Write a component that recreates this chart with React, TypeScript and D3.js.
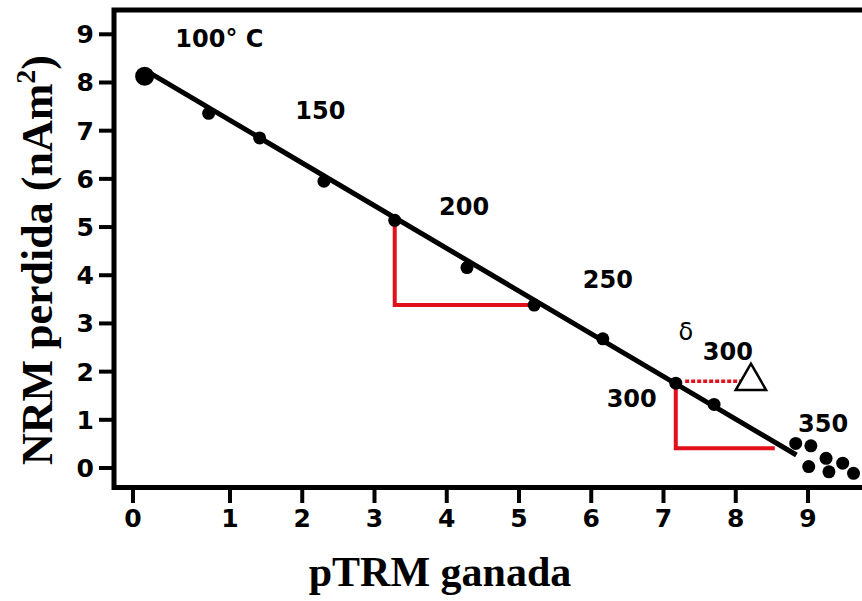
import React, { useEffect, useRef } from "react";
import * as d3 from "d3";

// ejes
const xTicks = [0, 1, 2, 3, 4, 5, 6, 7, 8, 9];
const yTicks = [0, 1, 2, 3, 4, 5, 6, 7, 8, 9];

// puntos medidos (pTRM ganada, NRM perdida)
const pTRM = [0.12, 0.78, 1.41, 2.3, 3.28, 4.28, 5.21, 6.16, 7.17, 7.7, 8.83, 9.04, 9.25, 9.01, 9.29, 9.48, 9.63];
const NRM = [8.13, 7.36, 6.85, 5.95, 5.14, 4.16, 3.38, 2.68, 1.76, 1.32, 0.51, 0.46, 0.2, 0.03, -0.08, 0.1, -0.11];

// recta de ajuste
const fitX = [0.155, 8.84];
const fitY = [8.22, 0.27];

// triangulos rojos
const redA: [number, number][] = [[3.28, 5.14], [3.28, 3.38], [5.21, 3.38]];
const redB: [number, number][] = [[7.17, 1.76], [7.17, 0.41], [8.54, 0.41]];
const checkLine: [number, number][] = [[7.3, 1.8], [8.08, 1.8]];
const checkPoint: [number, number] = [8.21, 1.8];

// etiquetas de temperatura
const tempText = ["100° C", "150", "200", "250", "300", "300", "350"];
const tempX = [0.89, 2.25, 4.24, 6.23, 7.89, 6.56, 9.21];
const tempY = [8.74, 7.25, 5.25, 3.73, 2.24, 1.27, 0.75];

const App = () => {
    const svgRef = useRef<SVGSVGElement>(null);

    useEffect(() => {
        const width = 862;
        const height = 601;
        const left = 114, top = 10, bottom = 487.5;
        const sans = "'DejaVu Sans', sans-serif";
        const serif = "'Liberation Serif', 'Times New Roman', serif";
        const red = "#e2101b";

        const svg = d3.select(svgRef.current);
        svg.selectAll("*").remove();
        svg.attr("width", width).attr("height", height);

        // el 0-1 esta mas separado en el original
        const x = d3.scaleLinear().domain([0, 1, 9]).range([133, 230, 808]);
        const y = d3.scaleLinear().domain([0, 9]).range([468, 34.3]);

        // marco
        svg.append("path")
            .attr("d", `M${width + 20},${top}H${left}V${bottom}H${width + 20}`)
            .attr("fill", "none")
            .attr("stroke", "#000")
            .attr("stroke-width", 5);

        // ticks Y
        const yg = svg.append("g");
        yg.selectAll("line").data(yTicks).enter().append("line")
            .attr("x1", 99).attr("x2", left)
            .attr("y1", (d) => y(d)).attr("y2", (d) => y(d))
            .attr("stroke", "#000").attr("stroke-width", 4);
        yg.selectAll("text").data(yTicks).enter().append("text")
            .attr("x", 94).attr("y", (d) => y(d))
            .attr("dy", "0.36em")
            .attr("text-anchor", "end")
            .attr("font-family", sans).attr("font-weight", "bold").attr("font-size", 25)
            .text((d) => d);

        // ticks X
        const xg = svg.append("g");
        xg.selectAll("line").data(xTicks).enter().append("line")
            .attr("x1", (d) => x(d)).attr("x2", (d) => x(d))
            .attr("y1", bottom).attr("y2", 503)
            .attr("stroke", "#000").attr("stroke-width", 4);
        xg.selectAll("text").data(xTicks).enter().append("text")
            .attr("x", (d) => x(d)).attr("y", 527)
            .attr("text-anchor", "middle")
            .attr("font-family", sans).attr("font-weight", "bold").attr("font-size", 25)
            .text((d) => d);

        // titulos
        svg.append("text")
            .attr("x", 440).attr("y", 586)
            .attr("text-anchor", "middle")
            .attr("font-family", serif).attr("font-weight", "bold").attr("font-size", 42)
            .text("pTRM ganada");

        const yt = svg.append("text")
            .attr("transform", "translate(52,260) rotate(-90)")
            .attr("text-anchor", "middle")
            .attr("font-family", serif).attr("font-weight", "bold").attr("font-size", 44);
        yt.append("tspan").text("NRM perdida (nAm");
        yt.append("tspan").attr("dy", -17).attr("font-size", 28).text("2");
        yt.append("tspan").attr("dy", 17).text(")");

        const line = d3.line<[number, number]>().x((d) => x(d[0])).y((d) => y(d[1]));

        // rojo
        [redA, redB].forEach((pts) => {
            svg.append("path")
                .attr("d", line(pts))
                .attr("fill", "none")
                .attr("stroke", red)
                .attr("stroke-width", 4);
        });
        svg.append("path")
            .attr("d", line(checkLine))
            .attr("stroke", red)
            .attr("stroke-width", 3.5)
            .attr("stroke-dasharray", "4,2");

        svg.append("path")
            .attr("transform", `translate(${x(checkPoint[0])},${y(checkPoint[1])})`)
            .attr("d", d3.symbol().type(d3.symbolTriangle).size(400)())
            .attr("fill", "#fff")
            .attr("stroke", "#000")
            .attr("stroke-width", 2.5);

        // recta
        svg.append("path")
            .attr("d", line(fitX.map((v, i) => [v, fitY[i]] as [number, number])))
            .attr("fill", "none")
            .attr("stroke", "#000")
            .attr("stroke-width", 5);

        // puntos
        svg.append("g").selectAll("circle")
            .data(pTRM.map((v, i) => ({ x: v, y: NRM[i], i })))
            .enter().append("circle")
            .attr("cx", (d) => x(d.x))
            .attr("cy", (d) => y(d.y))
            .attr("r", (d) => (d.i === 0 ? 9.5 : 6.5))
            .attr("fill", "#000");

        // etiquetas
        svg.append("g").selectAll("text")
            .data(tempText.map((t, i) => ({ t, x: tempX[i], y: tempY[i] })))
            .enter().append("text")
            .attr("x", (d) => x(d.x)).attr("y", (d) => y(d.y))
            .attr("text-anchor", "middle")
            .attr("font-family", sans).attr("font-weight", "bold").attr("font-size", 24)
            .text((d) => d.t);

        svg.append("text")
            .attr("x", x(7.31)).attr("y", y(2.65))
            .attr("text-anchor", "middle")
            .attr("font-family", sans).attr("font-size", 24)
            .text("δ");
    }, []);

    return (
        <svg ref={svgRef} style={{ position: "absolute", left: 0, top: 0, background: "#fff" }}></svg>
    );
};

export default App;
